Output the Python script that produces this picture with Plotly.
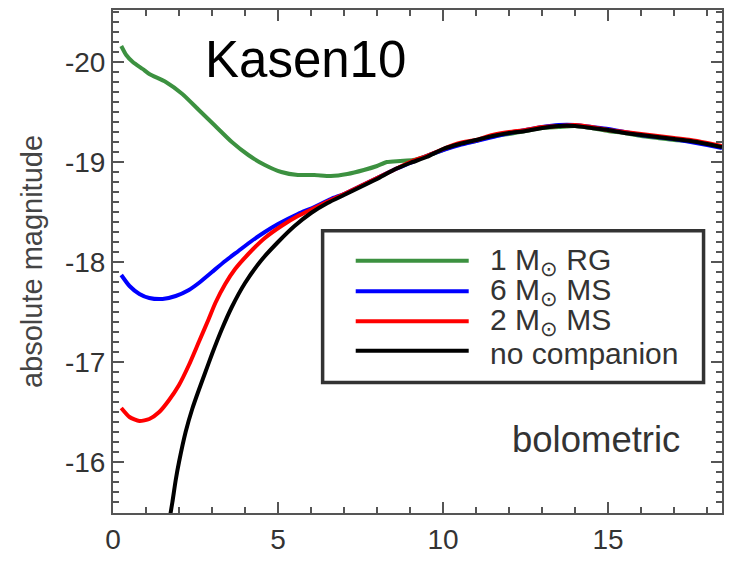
import plotly.graph_objects as go

# ---------------- data ----------------
tail_x = [10.0, 10.5, 11.0, 11.5, 12.0, 12.5, 13.0, 13.5, 14.0, 14.5, 15.0, 15.5,
          16.0, 16.5, 17.0, 17.5, 18.0, 18.45]
tail_y = [-19.13, -19.18, -19.22, -19.26, -19.29, -19.31, -19.34, -19.36, -19.36,
          -19.34, -19.32, -19.29, -19.27, -19.25, -19.23, -19.21, -19.18, -19.15]

rg_x = [0.25, 0.4, 0.6, 0.9, 1.1, 1.6, 2.1, 2.6, 3.1, 3.6, 4.1, 4.6, 5.1, 5.6, 6.1,
        6.6, 7.1, 7.6, 8.0, 8.3, 8.7, 9.1, 9.5]
rg_y = [-20.16, -20.07, -20.0, -19.93, -19.88, -19.8, -19.68, -19.52, -19.36, -19.2,
        -19.07, -18.97, -18.9, -18.87, -18.87, -18.86, -18.88, -18.92, -18.96, -19.0,
        -19.01, -19.02, -19.06]
rg_tail = [-19.12, -19.18, -19.21, -19.26, -19.28, -19.31, -19.34, -19.35, -19.36,
           -19.34, -19.31, -19.29, -19.26, -19.24, -19.22, -19.21, -19.18, -19.15]

ms6_x = [0.25, 0.5, 0.8, 1.1, 1.5, 1.9, 2.3, 2.6, 3.0, 3.4, 3.8, 4.2, 4.6, 5.0, 5.6,
         6.1, 6.6, 7.0, 7.5, 8.0, 8.5, 9.0, 9.5]
ms6_y = [-17.87, -17.76, -17.68, -17.64, -17.63, -17.66, -17.72, -17.79, -17.9, -18.01,
         -18.11, -18.21, -18.3, -18.38, -18.48, -18.55, -18.63, -18.68, -18.76, -18.84,
         -18.92, -18.99, -19.06]
ms6_tail = [-19.12, -19.17, -19.21, -19.25, -19.29, -19.32, -19.35, -19.37, -19.37,
            -19.35, -19.33, -19.3, -19.27, -19.25, -19.23, -19.2, -19.17, -19.14]

ms2_x = [0.25, 0.5, 0.8, 1.1, 1.4, 1.7, 2.0, 2.3, 2.6, 2.9, 3.1, 3.4, 3.7, 4.1, 4.6,
         5.1, 5.6, 6.1, 6.6, 7.0, 7.5, 8.0, 8.5, 9.0, 9.5]
ms2_y = [-16.54, -16.45, -16.41, -16.43, -16.5, -16.62, -16.77, -16.97, -17.2, -17.43,
         -17.59, -17.78, -17.93, -18.08, -18.24, -18.36, -18.46, -18.54, -18.62, -18.68,
         -18.76, -18.84, -18.92, -19.0, -19.06]
ms2_tail = [-19.13, -19.19, -19.22, -19.27, -19.3, -19.32, -19.35, -19.36, -19.37,
            -19.35, -19.32, -19.3, -19.28, -19.26, -19.24, -19.22, -19.19, -19.16]

noc_x = [1.7, 1.8, 1.9, 2.0, 2.2, 2.4, 2.6, 2.8, 3.0, 3.3, 3.6, 4.0, 4.5, 5.0, 5.5,
         6.0, 6.5, 7.0, 7.5, 8.0, 8.5, 9.0, 9.5]
noc_y = [-15.4, -15.6, -15.82, -16.0, -16.3, -16.53, -16.72, -16.9, -17.08, -17.33,
         -17.55, -17.79, -18.02, -18.2, -18.36, -18.49, -18.59, -18.67, -18.75, -18.83,
         -18.92, -18.99, -19.05]

series_names = ["1 M<sub>⊙</sub> RG", "6 M<sub>⊙</sub> MS", "2 M<sub>⊙</sub> MS", "no companion"]
series_colors = ["#3c9140", "#0000ff", "#ff0000", "#000000"]

x_ticks = [0, 5, 10, 15]
x_ticktext = ["0", "5", "10", "15"]
y_ticks = [-20, -19, -18, -17, -16]
y_ticktext = ["-20", "-19", "-18", "-17", "-16"]

# ---------------- figure ----------------
fig = go.Figure()
curves = [
    (rg_x + tail_x, rg_y + rg_tail),
    (ms6_x + tail_x, ms6_y + ms6_tail),
    (ms2_x + tail_x, ms2_y + ms2_tail),
    (noc_x + tail_x, noc_y + tail_y),
]
for (xs, ys), name, col in zip(curves, series_names, series_colors):
    fig.add_trace(go.Scatter(x=xs, y=ys, mode="lines", name=name,
                             line=dict(color=col, width=4, shape="spline", smoothing=0.6),
                             showlegend=False))

FONT = "Liberation Sans, Arial, Helvetica, sans-serif"
axcol = "#555555"

fig.update_layout(
    width=731, height=562,
    margin=dict(l=113, r=7, t=10, b=40),
    paper_bgcolor="white", plot_bgcolor="white",
    font=dict(family=FONT, color="#333333"),
    showlegend=False,
)
fig.update_xaxes(range=[0, 18.45], showgrid=False, zeroline=False,
                 showline=True, linecolor=axcol, linewidth=2, mirror="allticks",
                 ticks="inside", ticklen=11, tickwidth=1.5, tickcolor=axcol,
                 tickvals=x_ticks, ticktext=x_ticktext,
                 tickfont=dict(size=28, color="#333333"),
                 minor=dict(dtick=1, ticks="inside", ticklen=6, tickwidth=1.5, tickcolor=axcol))
fig.update_yaxes(range=[-15.49, -20.52], showgrid=False, zeroline=False,
                 showline=True, linecolor=axcol, linewidth=2, mirror="allticks",
                 ticks="inside", ticklen=11, tickwidth=1.5, tickcolor=axcol,
                 tickvals=y_ticks, ticktext=y_ticktext,
                 tickfont=dict(size=28, color="#333333"),
                 minor=dict(dtick=0.1, ticks="inside", ticklen=6, tickwidth=1.5, tickcolor=axcol),
                 title=dict(text="absolute magnitude", font=dict(size=29, color="#444444"),
                            standoff=14))

def px(xp):
    return (xp - 113.3) / 610.7

def py(yp):
    return (521.7 - yp) / 511.7

# legend box
fig.add_shape(type="rect", xref="paper", yref="paper",
              x0=px(323.5), x1=px(705.5), y0=py(389), y1=py(234.5),
              line=dict(color="#333333", width=3.5), fillcolor="white", layer="above")
rows = [265, 296, 326.7, 356.7]
text_rows = [266, 296.5, 327, 359.5]
for r, tr, name, col in zip(rows, text_rows, series_names, series_colors):
    fig.add_shape(type="line", xref="paper", yref="paper",
                  x0=px(356.7), x1=px(470), y0=py(r), y1=py(r),
                  line=dict(color=col, width=4), layer="above")
    fig.add_annotation(xref="paper", yref="paper", x=px(489), y=py(tr),
                       xanchor="left", yanchor="middle", showarrow=False,
                       text=name, font=dict(size=30, color="#333333", family=FONT))

fig.add_annotation(xref="paper", yref="paper", x=px(204), y=py(60.7),
                   xanchor="left", yanchor="middle", showarrow=False,
                   text="Kasen10", font=dict(size=51, color="#000000", family=FONT))
fig.add_annotation(xref="paper", yref="paper", x=px(511), y=py(446.7),
                   xanchor="left", yanchor="middle", showarrow=False,
                   text="bolometric", font=dict(size=36.5, color="#333333", family=FONT))

fig.write_html("out.html")
